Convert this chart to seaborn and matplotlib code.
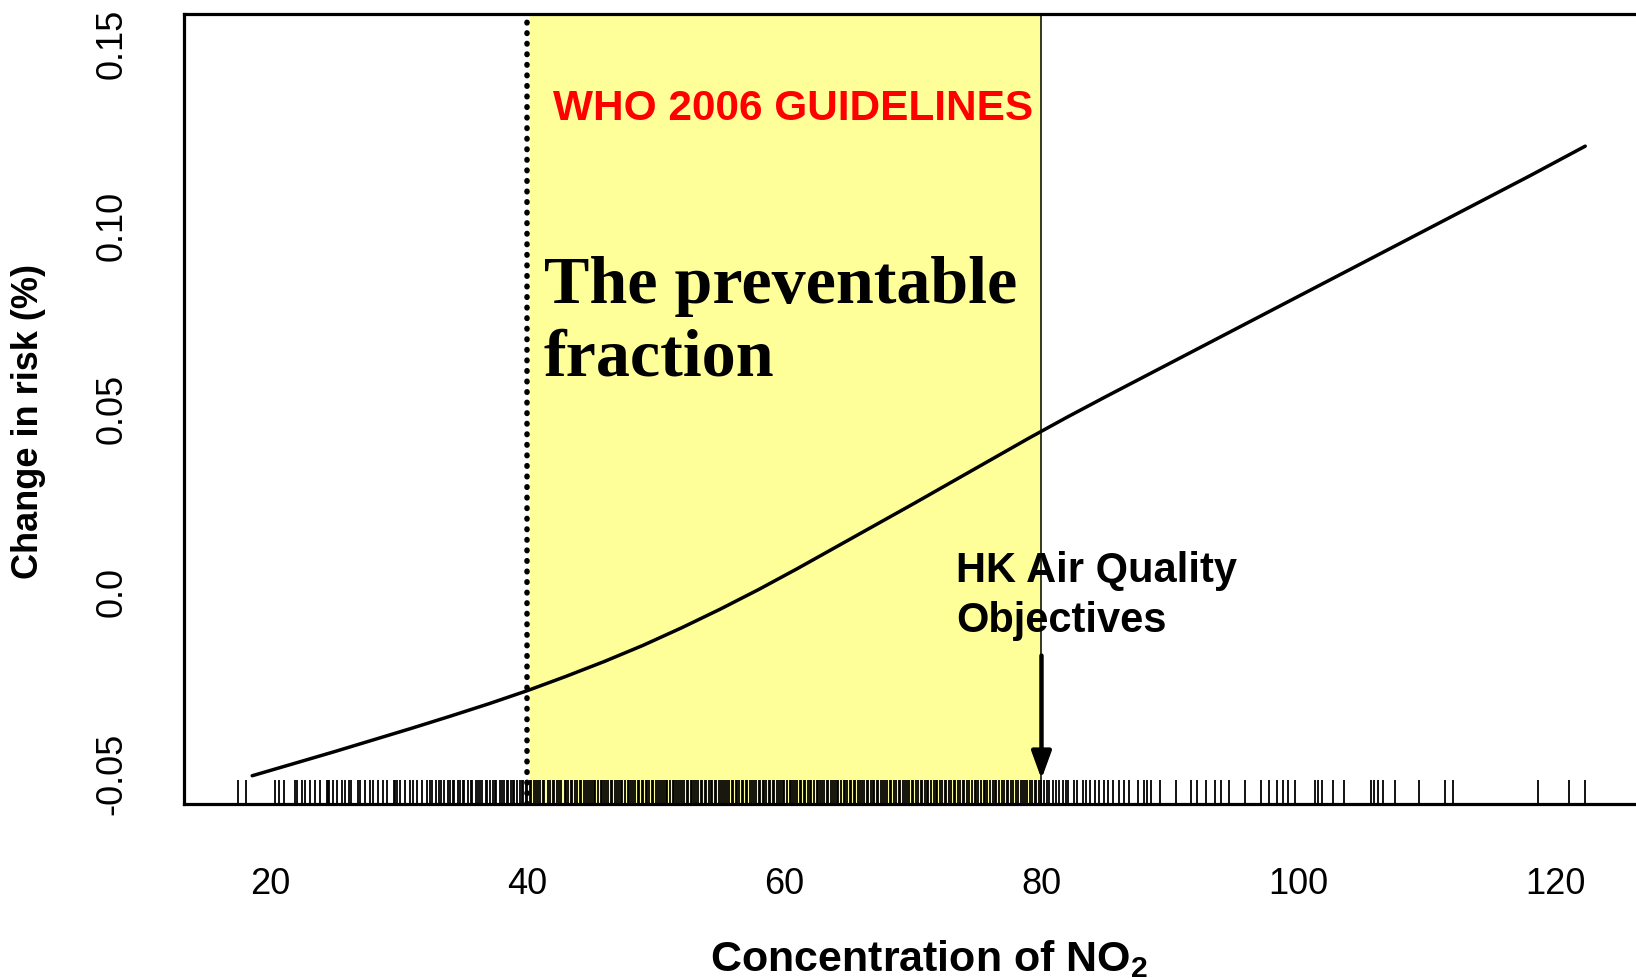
import numpy as np
import pandas as pd
import matplotlib
matplotlib.use("Agg")
import matplotlib.pyplot as plt
import seaborn as sns

# ---------------- data ----------------
curve_x = [18.6, 22, 25, 28, 31, 34, 37, 40, 43, 46, 49, 52, 55, 58, 61, 64, 67,
           70, 73, 76, 79, 82, 85, 88, 91, 94, 97, 100, 103, 106, 109, 112, 115,
           118, 122.3]
curve_y = [-0.0507, -0.0472, -0.0441, -0.0409, -0.0377, -0.0344, -0.0310, -0.0274,
           -0.0235, -0.0194, -0.0150, -0.0102, -0.0051, 0.0003, 0.0060, 0.0119,
           0.0178, 0.0237, 0.0297, 0.0357, 0.0417, 0.0475, 0.0531, 0.0586, 0.0641,
           0.0696, 0.0751, 0.0806, 0.0861, 0.0916, 0.0971, 0.1026, 0.1081, 0.1136,
           0.1217]

no2_obs = [
    17.5, 18.1, 20.4, 20.7, 21.1, 21.9, 22.1, 22.5, 22.7, 23.1, 23.5, 23.9, 24.4,
    24.5, 24.6, 24.9, 25.2, 25.6, 25.8, 26.1, 26.3, 26.8, 27.0, 27.4, 27.8, 28.0,
    28.4, 28.8, 29.1, 29.6, 29.7, 29.9, 30.1, 30.5, 30.9, 31.1, 31.4, 31.8, 32.2,
    32.4, 32.6, 32.9, 33.1, 33.3, 33.5,
    33.8, 34.0, 34.2, 34.3, 34.6, 34.8, 35.0, 35.1, 35.4, 35.6, 35.7, 36.0, 36.2,
    36.3, 36.5, 36.8, 36.9, 37.1, 37.3, 37.5, 37.6, 37.9, 38.0, 38.2, 38.4, 38.5,
    38.7, 38.9, 39.0, 39.2, 39.4, 39.6, 39.7, 39.9,
    40.0, 40.2, 40.3, 40.5, 40.7, 40.8, 41.0, 41.2, 41.3, 41.6, 41.8,
    42.0, 42.1, 42.3, 42.5, 42.6, 42.9, 43.0, 43.2, 43.4, 43.5, 43.7, 43.9,
    44.1, 44.2, 44.4, 44.6, 44.7, 44.9, 45.0, 45.2, 45.3, 45.5, 45.7, 45.8,
    46.0, 46.1, 46.3, 46.5, 46.6, 46.8, 47.0, 47.1, 47.3, 47.4, 47.6, 47.8, 47.9,
    48.1, 48.2, 48.4, 48.6, 48.7, 48.9, 49.0, 49.2, 49.3, 49.5, 49.7, 49.8,
    50.0, 50.2, 50.3, 50.5, 50.6, 50.8, 50.9, 51.1, 51.3, 51.4, 51.6, 51.7, 51.9,
    52.0, 52.2, 52.4, 52.5, 52.7, 52.8, 53.0, 53.1, 53.3, 53.5, 53.6, 53.8, 53.9,
    54.1, 54.3, 54.4, 54.6, 54.7, 54.9, 55.1, 55.2, 55.4, 55.5, 55.7, 55.9,
    56.0, 56.2, 56.3, 56.5, 56.7, 56.8, 57.0, 57.1, 57.3, 57.5, 57.6, 57.8,
    58.0, 58.1, 58.3, 58.4, 58.6, 58.8, 58.9, 59.1, 59.2, 59.4, 59.6, 59.7, 59.9,
    60.0, 60.2, 60.4, 60.5, 60.7, 60.8, 61.0, 61.2, 61.3, 61.5, 61.6, 61.8,
    62.0, 62.1, 62.3, 62.5, 62.6, 62.8, 62.9, 63.1, 63.3, 63.4, 63.6, 63.8, 63.9,
    64.1, 64.2, 64.4, 64.6, 64.7, 64.9, 65.1, 65.2, 65.4, 65.5, 65.7, 65.9,
    66.0, 66.2, 66.4, 66.5, 66.7, 66.9, 67.0, 67.2, 67.3, 67.5, 67.7, 67.8,
    68.0, 68.2, 68.3, 68.5, 68.7, 68.9, 69.0, 69.2, 69.4, 69.5, 69.7, 69.9,
    70.0, 70.2, 70.4, 70.6, 70.7, 70.9, 71.1, 71.2, 71.4, 71.6, 71.8, 71.9,
    72.1, 72.3, 72.5, 72.6, 72.8, 73.0, 73.2, 73.3, 73.5, 73.7, 73.9,
    74.0, 74.2, 74.4, 74.6, 74.8, 74.9, 75.1, 75.3, 75.5, 75.6, 75.8,
    76.0, 76.2, 76.4, 76.5, 76.7, 76.9, 77.1, 77.3, 77.4, 77.6, 77.8,
    78.0, 78.2, 78.4, 78.6, 78.7, 78.9, 79.1, 79.3, 79.5, 79.6, 79.8, 80.0,
    80.2, 80.4, 80.6, 80.9, 81.1, 81.4, 81.7, 81.9, 82.1, 82.5, 82.8, 83.2, 83.5,
    83.8, 84.2, 84.5, 84.9, 85.2, 85.6, 86.0, 86.4, 86.8, 87.5, 88.0, 88.2, 88.5,
    89.2, 90.5, 91.6, 92.1, 92.8, 93.5, 94.0, 94.6, 95.8, 97.1, 97.7, 98.3, 98.8,
    99.2, 99.7, 101.3, 101.5, 101.8, 102.7, 103.5, 105.6, 105.9, 106.2, 106.6,
    107.5, 109.4, 111.4, 112.0, 118.6, 121.0, 122.3,
]

who_guideline = 40
hk_aqo = 80
x_ticks = [20, 40, 60, 80, 100, 120]
y_ticks = [-0.05, 0.0, 0.05, 0.10, 0.15]
y_tick_labels = ["-0.05", "0.0", "0.05", "0.10", "0.15"]

# ---------------- style ----------------
sns.set_style("white")
plt.rcParams["font.family"] = ["Liberation Sans", "DejaVu Sans"]
plt.rcParams["text.color"] = "black"
plt.rcParams["axes.labelcolor"] = "black"
plt.rcParams["xtick.color"] = "black"
plt.rcParams["ytick.color"] = "black"
plt.rcParams["mathtext.fontset"] = "custom"
plt.rcParams["mathtext.rm"] = "Liberation Sans"
plt.rcParams["mathtext.bf"] = "Liberation Sans:bold"

W, H = 1636, 979
fig = plt.figure(figsize=(W / 100, H / 100), dpi=100)
ax = fig.add_axes([183.6 / W, 1 - 804.5 / H, 1468 / W, (804.5 - 14.6) / H])
ax.set_xlim(13.263, 127.463)
ax.set_ylim(-0.0583, 0.1580)

# shaded band between guidelines
ax.axvspan(who_guideline + 0.2, hk_aqo, color="#FFFF99", lw=0, zorder=0)
ax.axvline(hk_aqo, color="black", lw=1.1, zorder=2)
ax.axvline(who_guideline - 0.05, color="black", lw=4.0, linestyle=(0, (0.1, 1.8)),
           dash_capstyle="round", zorder=3)

# rug of observations
sns.rugplot(x=no2_obs, height=0.03, color="black", linewidth=1.3, ax=ax,
            expand_margins=False, zorder=2)

# exposure-response curve
df = pd.DataFrame({"no2": curve_x, "risk": curve_y})
sns.lineplot(data=df, x="no2", y="risk", color="black", lw=2.5, ax=ax, zorder=4)

# arrow to HK AQO
ax.annotate("", xy=(hk_aqo, -0.0516), xytext=(hk_aqo, -0.0178),
            arrowprops=dict(arrowstyle="-|>,head_length=0.55,head_width=0.2",
                            lw=3.2, color="black", mutation_scale=30,
                            shrinkA=0, shrinkB=0), zorder=5)

# annotations
ax.text(42.0, 0.1291, "WHO 2006 GUIDELINES", color="#FF0000", fontsize=30.5,
        fontweight="bold", ha="left", va="baseline", zorder=6)
ax.text(41.27, 0.0791, "The preventable", family="Liberation Serif",
        fontsize=49, fontweight="bold", ha="left", va="baseline", zorder=6)
ax.text(41.27, 0.0591, "fraction", family="Liberation Serif",
        fontsize=49, fontweight="bold", ha="left", va="baseline", zorder=6)
ax.text(73.35, 0.0027, "HK Air Quality", fontsize=30, fontweight="bold",
        ha="left", va="baseline", zorder=6)
ax.text(73.35, -0.0110, "Objectives", fontsize=30, fontweight="bold",
        ha="left", va="baseline", zorder=6)

# axes / ticks
ax.set_xticks(x_ticks)
ax.set_xticklabels([str(t) for t in x_ticks])
ax.set_yticks(y_ticks)
ax.set_yticklabels(y_tick_labels, rotation=90, va="center")
ax.tick_params(axis="both", direction="out", length=11, width=1.8,
               labelsize=26, colors="black")
ax.tick_params(axis="x", pad=34)
ax.tick_params(axis="y", pad=28)
for sp in ax.spines.values():
    sp.set_visible(True)
    sp.set_color("black")
    sp.set_linewidth(2.3)

ax.set_xlabel("Concentration of NO$_\\mathbf{2}$", fontsize=31, fontweight="bold",
              va="baseline")
ax.xaxis.set_label_coords((929 - 183.6) / 1468, (804.5 - 971) / 790)
ax.set_ylabel("Change in risk (%)", fontsize=26, fontweight="bold", va="center")
ax.yaxis.set_label_coords((29 - 183.6) / 1468, (804.5 - 421) / 790)

fig.savefig("out.png", dpi=100)
